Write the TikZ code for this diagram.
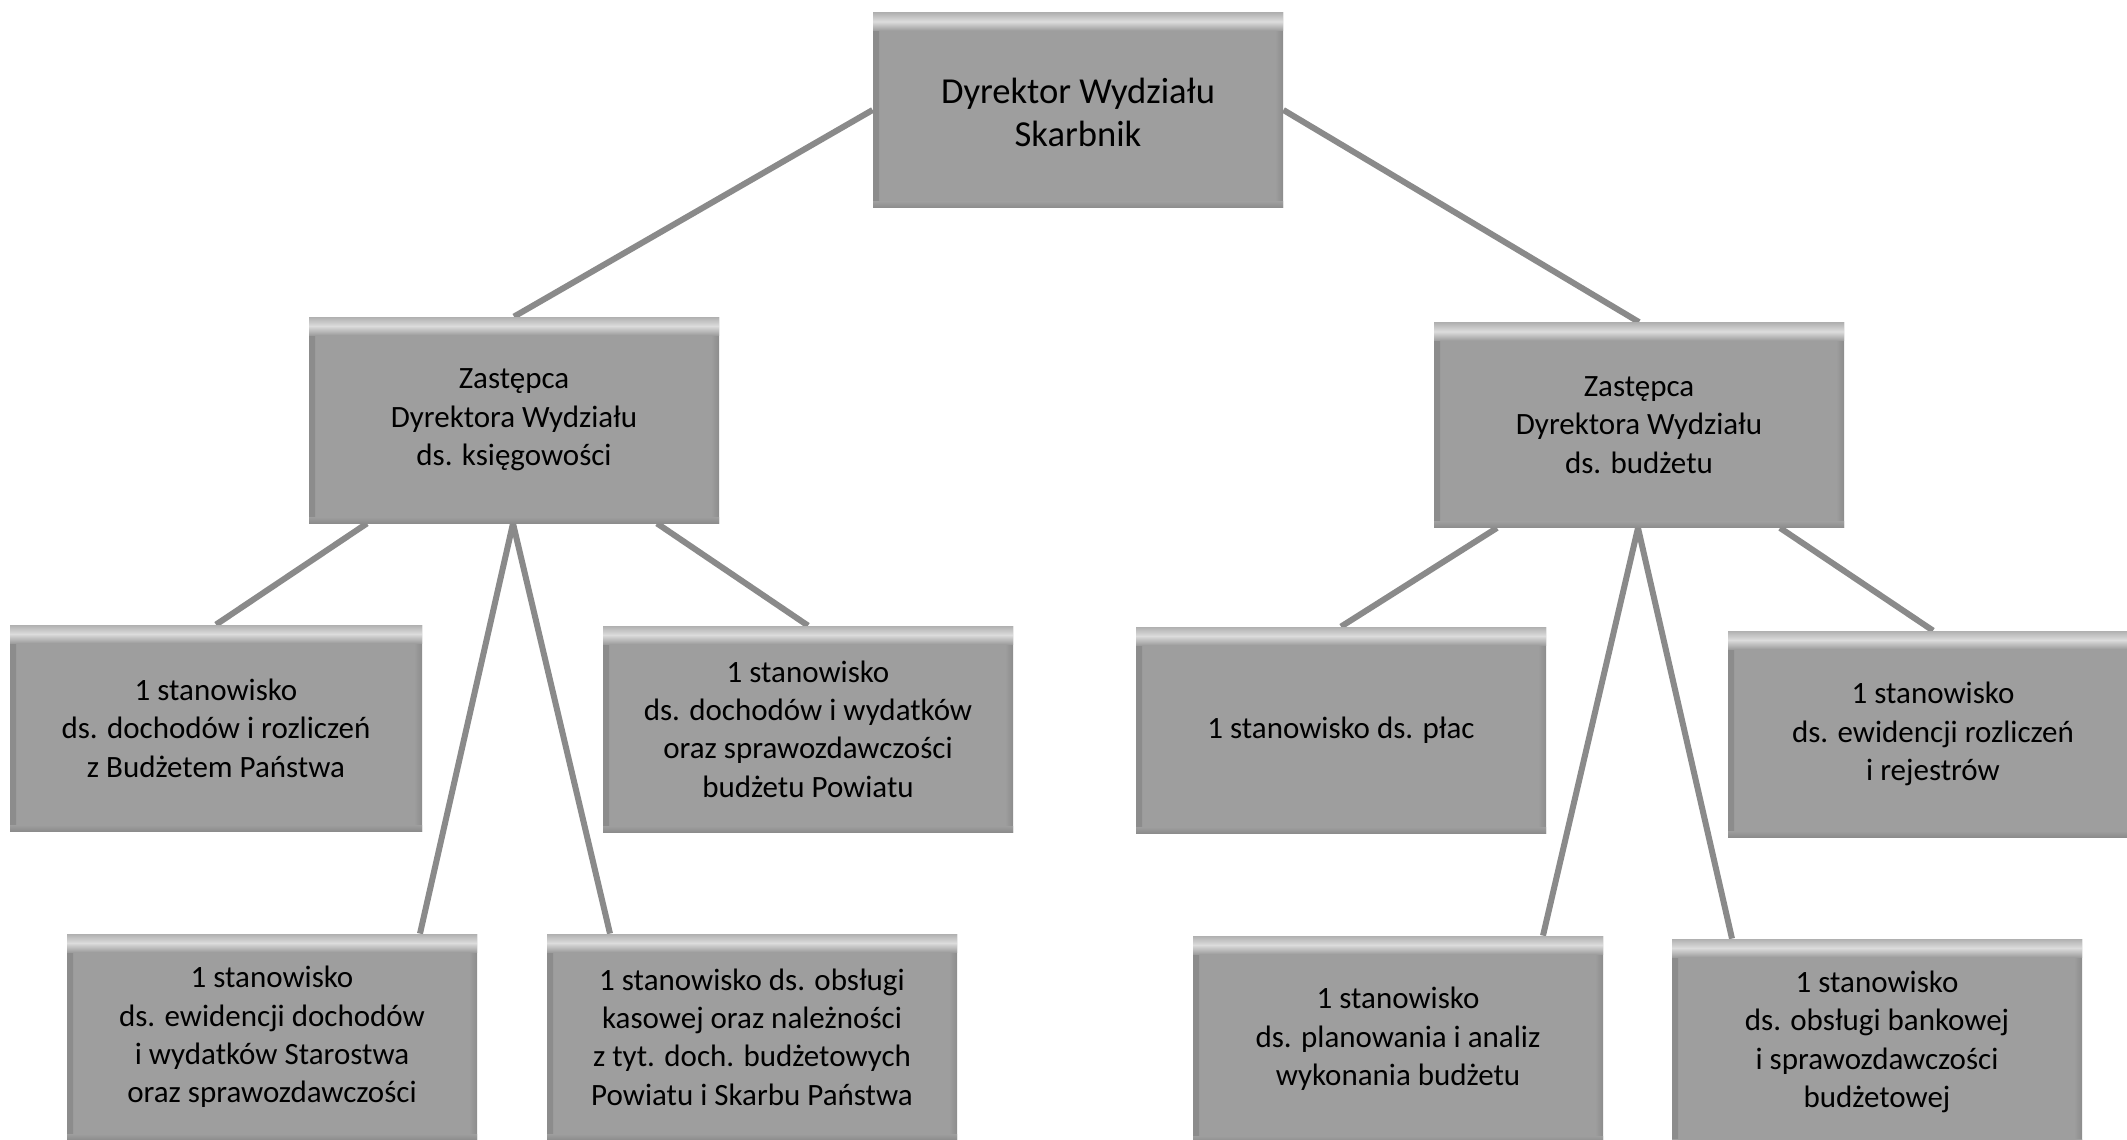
\documentclass[tikz,border=0pt]{standalone}
\usepackage{fontspec}
\setmainfont{Carlito}
\usetikzlibrary{calc,backgrounds}
\definecolor{boxgray}{HTML}{9E9E9E}
\definecolor{bevtop}{HTML}{B0B0B0}
\definecolor{bevhi}{HTML}{DCDCDC}
\definecolor{bevdark}{HTML}{8C8C8C}
\definecolor{linegray}{HTML}{8A8A8A}
\tikzset{
  orgbox/.style={rectangle, fill=boxgray, draw=none, inner sep=0pt,
    minimum width=205pt, minimum height=103pt, align=center,
    font=\fontsize{15.5}{19.2}\selectfont,
    path picture={
      \fill[left color=bevdark, right color=boxgray]
        (path picture bounding box.south west) rectangle ([xshift=3pt]path picture bounding box.north west);
      \fill[left color=boxgray, right color=bevdark]
        ([xshift=-4pt]path picture bounding box.south east) rectangle (path picture bounding box.north east);
      \fill[top color=boxgray, bottom color=bevdark]
        ([yshift=3pt]path picture bounding box.south west) rectangle (path picture bounding box.south east);
      \fill[top color=bevtop, bottom color=boxgray, middle color=bevhi]
        (path picture bounding box.north west) rectangle ([yshift=-9pt]path picture bounding box.north east);
    }},
  conn/.style={draw=linegray, line width=3pt}
}
\begin{document}
\begin{tikzpicture}[x=0.5pt,y=-0.5pt]
\useasboundingbox (0,0) rectangle (2127,1140);

\node[orgbox, minimum width=205pt, minimum height=97.5pt, font=\fontsize{18.3}{21.5}\selectfont] (top) at (1078,110) {\\[-6pt]Dyrektor Wydziału\\Skarbnik};

\node[orgbox, minimum height=103pt] (lz) at (514,420) {Zastępca\\Dyrektora Wydziału\\ds. księgowości};
\node[orgbox, minimum height=102.5pt] (rz) at (1639,425) {Zastępca\\Dyrektora Wydziału\\ds. budżetu};

\node[orgbox, minimum width=206pt] (l1) at (216,728) {1 stanowisko\\ds. dochodów i rozliczeń\\z Budżetem Państwa};
\node[orgbox] (l3) at (808,729) {1 stanowisko\\ds. dochodów i wydatków\\oraz sprawozdawczości\\budżetu Powiatu};
\node[orgbox] (r1) at (1341,730) {1 stanowisko ds. płac};
\node[orgbox] (r3) at (1933,734) {1 stanowisko\\ds. ewidencji rozliczeń\\i rejestrów};

\node[orgbox] (l2) at (272,1037) {1 stanowisko\\ds. ewidencji dochodów\\i wydatków Starostwa\\oraz sprawozdawczości};
\node[orgbox] (l4) at (752,1037) {1 stanowisko ds. obsługi\\kasowej oraz należności\\z tyt. doch. budżetowych\\Powiatu i Skarbu Państwa};
\node[orgbox] (r2) at (1398,1039) {1 stanowisko\\ds. planowania i analiz\\wykonania budżetu};
\node[orgbox] (r4) at (1877,1042) {1 stanowisko\\ds. obsługi bankowej\\i sprawozdawczości\\budżetowej};

\begin{pgfonlayer}{background}
\fill[white] (0,0) rectangle (2127,1140);
\draw[conn] (top.west) -- (lz.north);
\draw[conn] (top.east) -- (rz.north);
\draw[conn] ($(lz.south)+(-147,0)$) -- (l1.north);
\draw[conn] ($(lz.south)+(-1,0)$) -- ($(l2.north)+(148,0)$);
\draw[conn] ($(lz.south)+(-1,0)$) -- ($(l4.north)+(-142,0)$);
\draw[conn] ($(lz.south)+(143,0)$) -- (l3.north);
\draw[conn] ($(rz.south)+(-142,0)$) -- (r1.north);
\draw[conn] ($(rz.south)+(-1,0)$) -- ($(r2.north)+(145,0)$);
\draw[conn] ($(rz.south)+(-1,0)$) -- ($(r4.north)+(-145,0)$);
\draw[conn] ($(rz.south)+(141,0)$) -- (r3.north);
\end{pgfonlayer}
\end{tikzpicture}
\end{document}
